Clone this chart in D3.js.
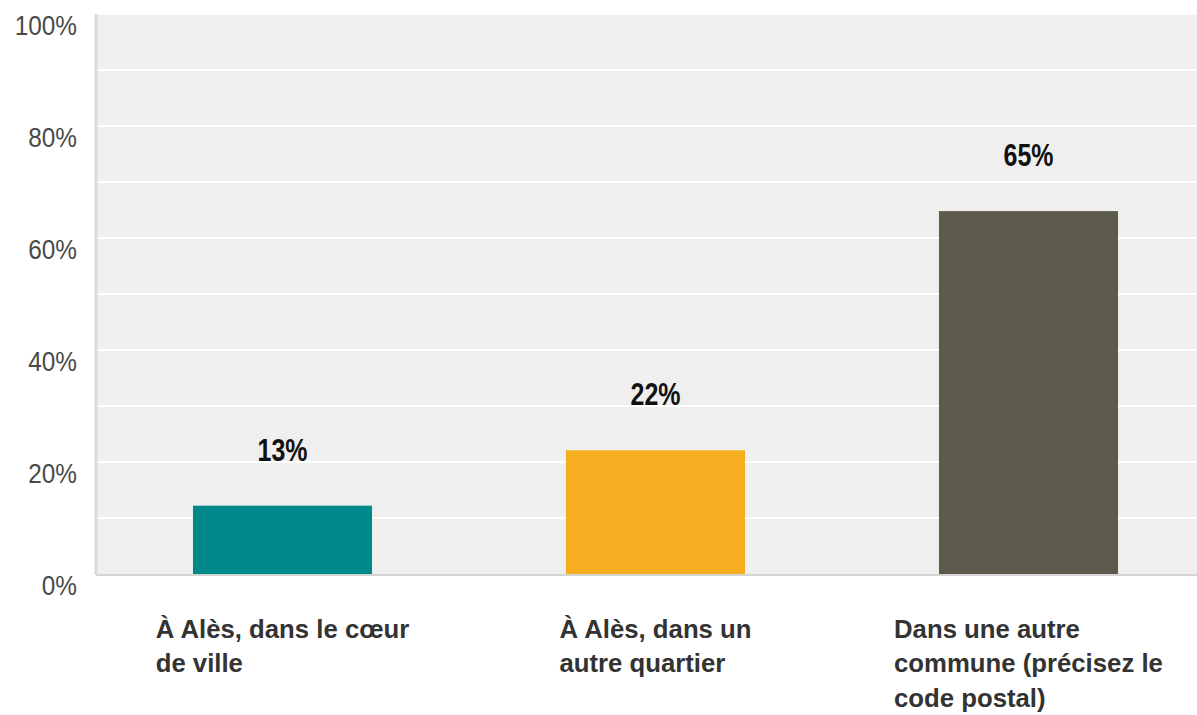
<!DOCTYPE html>
<html>
<head>
<meta charset="utf-8">
<script src="https://cdn.jsdelivr.net/npm/d3@7"></script>
<style>
  body { margin: 0; background: #fff; }
  svg { display: block; }
</style>
</head>
<body>
<script>
const categories = [
  ["À Alès, dans le cœur", "de ville"],
  ["À Alès, dans un", "autre quartier"],
  ["Dans une autre", "commune (précisez le", "code postal)"]
];
const values = [12.2, 22.1, 64.8];
const valueLabels = ["13%", "22%", "65%"];
const colors = ["#00898a", "#f4ae20", "#5c5a4b"];
const yTicks = [0, 20, 40, 60, 80, 100];
const gridTicks = [10, 20, 30, 40, 50, 60, 70, 80, 90, 100];

function main() {
  const canvasWidth = 1197;
  const canvasHeight = 715;
  const font = "'Liberation Sans', Arial, sans-serif";

  const svg = d3.select("body").append("svg")
    .attr("width", canvasWidth)
    .attr("height", canvasHeight);

  const left = 96, top = 14, bottom = 574, right = 1215;

  const xScale = d3.scaleBand()
    .domain(d3.range(categories.length))
    .range([left, right])
    .paddingInner(0.52)
    .paddingOuter(0.26);

  const yScale = d3.scaleLinear()
    .domain([0, 100])
    .range([bottom, top]);

  // plot background
  svg.append("rect")
    .attr("x", left).attr("y", top)
    .attr("width", canvasWidth - left).attr("height", bottom - top)
    .attr("fill", "#efefef");

  // white grid lines
  svg.append("g")
    .selectAll("line")
    .data(gridTicks)
    .join("line")
    .attr("x1", left).attr("x2", canvasWidth)
    .attr("y1", d => yScale(d)).attr("y2", d => yScale(d))
    .attr("stroke", "#ffffff")
    .attr("stroke-width", 2);

  // left axis line and baseline
  svg.append("line")
    .attr("x1", left).attr("x2", left)
    .attr("y1", top).attr("y2", bottom + 1)
    .attr("stroke", "#dadada").attr("stroke-width", 3);
  svg.append("line")
    .attr("x1", left).attr("x2", canvasWidth)
    .attr("y1", bottom + 1).attr("y2", bottom + 1)
    .attr("stroke", "#d4d4d4").attr("stroke-width", 2);

  // y axis labels (narrowed Liberation Sans)
  svg.append("g")
    .selectAll("text")
    .data(yTicks)
    .join("text")
    .attr("transform", d => "translate(77," + (yScale(d) + 21) + ") scale(0.87,1)")
    .attr("text-anchor", "end")
    .attr("font-family", font)
    .attr("font-size", 28)
    .attr("fill", "#4a4a4a")
    .text(d => d + "%");

  // bars
  svg.append("g")
    .selectAll("rect")
    .data(values)
    .join("rect")
    .attr("x", (d, i) => xScale(i))
    .attr("y", d => yScale(d))
    .attr("width", xScale.bandwidth())
    .attr("height", d => yScale(0) - yScale(d))
    .attr("fill", (d, i) => colors[i]);

  // value labels
  svg.append("g")
    .selectAll("text")
    .data(values)
    .join("text")
    .attr("transform", (d, i) => "translate(" + (xScale(i) + xScale.bandwidth() / 2) + "," + (yScale(d) - 45) + ") scale(0.78,1)")
    .attr("text-anchor", "middle")
    .attr("font-family", font)
    .attr("font-weight", "bold")
    .attr("font-size", 32)
    .attr("fill", "#111")
    .text((d, i) => valueLabels[i]);

  // category labels: left-aligned lines, block centred under bar
  const catG = svg.append("g");
  const sx = 0.99;
  categories.forEach((lines, i) => {
    const cx = xScale(i) + xScale.bandwidth() / 2;
    const t = catG.append("text")
      .attr("font-family", font)
      .attr("font-weight", "bold")
      .attr("font-size", 26)
      .attr("fill", "#333");
    lines.forEach((s, j) => {
      t.append("tspan")
        .attr("x", 0)
        .attr("y", 638 + j * 34.5)
        .text(s);
    });
    const w = t.node().getBBox().width * sx;
    t.attr("transform", "translate(" + (cx - w / 2) + ",0) scale(" + sx + ",1)");
  });
}
main();
</script>
</body>
</html>
